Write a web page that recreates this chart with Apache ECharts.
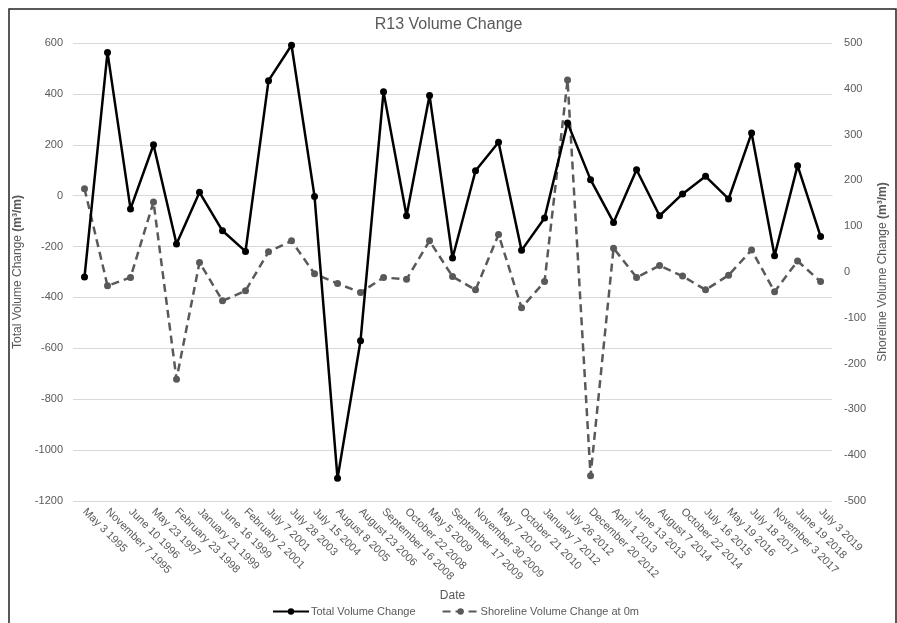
<!DOCTYPE html>
<html>
<head>
<meta charset="utf-8">
<script src="https://cdn.jsdelivr.net/npm/echarts@6/dist/echarts.min.js"></script>
<style>
  html, body { margin: 0; padding: 0; background: #fff; }
  #main { width: 897px; height: 623px; }
</style>
</head>
<body>
<div id="main"></div>
<script>
// survey dates
var dates = ['May 3 1995', 'November 7 1995', 'June 10 1996', 'May 23 1997', 'February 23 1998',
  'January 21 1999', 'June 16 1999', 'February 2 2001', 'July 7 2001', 'July 28 2003',
  'July 15 2004', 'August 8 2005', 'August 23 2006', 'September 16 2008', 'October 22 2008',
  'May 5 2009', 'September 17 2009', 'November 30 2009', 'May 7 2010', 'October 21 2010',
  'January 7 2012', 'July 26 2012', 'December 20 2012', 'April 1 2013', 'June 13 2013',
  'August 7 2014', 'October 22 2014', 'July 16 2015', 'May 19 2016', 'July 18 2017',
  'November 3 2017', 'June 19 2018', 'July 3 2019'];

// total volume change (left axis)
var totalChange = [-320, 563, -52, 200, -190, 13, -138, -219, 452, 591,
  -3, -1111, -570, 408, -79, 394, -245, 98, 210, -215,
  -88, 286, 63, -105, 102, -79, 7, 76, -13, 246,
  -236, 118, -160];

// shoreline volume change at 0m (right axis)
var shoreChange = [182, -30, -12, 153, -234, 21, -63, -41, 44, 68,
  -4, -25, -45, -12, -16, 68, -10, -39, 82, -78,
  -21, 419, -445, 52, -12, 14, -9, -39, -7, 48,
  -43, 24, -21];

var txt = '#595959';
var chart = echarts.init(document.getElementById('main'));

var option = {
    backgroundColor: '#fff',
    textStyle: {fontFamily: 'Liberation Sans'},
    title: {
        text: 'R13 Volume Change',
        left: 'center',
        top: 12,
        textStyle: {color: txt, fontSize: 16, fontWeight: 'normal', fontFamily: 'Liberation Sans'}
    },
    graphic: [{
        type: 'rect',
        shape: {x: 9, y: 9, width: 887, height: 630},
        style: {fill: null, stroke: '#222', lineWidth: 1.5},
        silent: true
    }],
    legend: {
        bottom: 1,
        left: 267,
        itemWidth: 36,
        itemHeight: 8,
        itemGap: 26,
        textStyle: {color: txt, fontSize: 11, padding: [0, 0, 0, -3]},
        data: ['Total Volume Change', 'Shoreline Volume Change at 0m']
    },
    grid: {left: 73, right: 59, top: 43, bottom: 122},
    xAxis: {
        type: 'category',
        data: dates,
        name: 'Date',
        nameLocation: 'middle',
        nameGap: 88,
        nameTextStyle: {color: txt, fontSize: 12},
        axisLine: {lineStyle: {color: '#d9d9d9'}},
        axisTick: {show: false},
        axisLabel: {interval: 0, rotate: -45, color: txt, fontSize: 11, margin: 9}
    },
    yAxis: [{
        type: 'value',
        min: -1200,
        max: 600,
        interval: 200,
        name: 'Total Volume Change {b|(m³/m)}',
        nameLocation: 'middle',
        nameGap: 39,
        nameTextStyle: {color: txt, fontSize: 12, rich: {b: {fontWeight: 'bold', color: txt, fontSize: 12}}},
        axisLine: {show: false},
        axisTick: {show: false},
        axisLabel: {color: txt, fontSize: 11, margin: 10, formatter: function (v) { return String(v); }},
        splitLine: {lineStyle: {color: '#d9d9d9', width: 1}}
    }, {
        type: 'value',
        min: -500,
        max: 500,
        interval: 100,
        position: 'right',
        name: 'Shoreline Volume Change {b|(m³/m)}',
        nameLocation: 'middle',
        nameGap: 44,
        nameTextStyle: {color: txt, fontSize: 12, rich: {b: {fontWeight: 'bold', color: txt, fontSize: 12}}},
        axisLine: {show: false},
        axisTick: {show: false},
        axisLabel: {color: txt, fontSize: 11, margin: 12},
        splitLine: {show: false}
    }],
    series: [{
        name: 'Total Volume Change',
        type: 'line',
        yAxisIndex: 0,
        data: totalChange,
        symbol: 'circle',
        symbolSize: 7,
        itemStyle: {color: '#000'},
        lineStyle: {color: '#000', width: 2.5},
        z: 3
    }, {
        name: 'Shoreline Volume Change at 0m',
        type: 'line',
        yAxisIndex: 1,
        data: shoreChange,
        symbol: 'circle',
        symbolSize: 7,
        itemStyle: {color: '#595959'},
        lineStyle: {color: '#595959', width: 2.5, type: [8, 5]},
        z: 2
    }]
};
chart.setOption(option);
</script>
</body>
</html>
